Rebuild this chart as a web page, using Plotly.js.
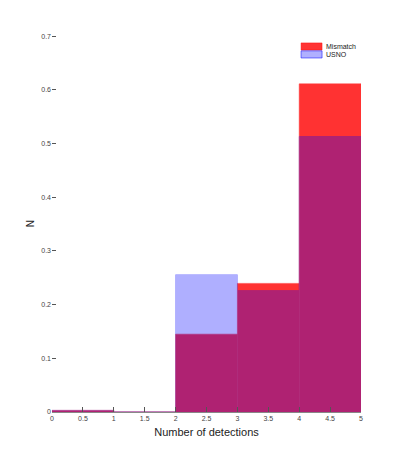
<!DOCTYPE html>
<html>
<head>
<meta charset="utf-8">
<script src="https://cdn.plot.ly/plotly-3.0.1.min.js"></script>
<style>html,body{margin:0;padding:0;background:#fff;}#chart{width:399px;height:464px;}</style>
</head>
<body>
<div id="chart"></div>
<script>
const binCenters = [0.5, 1.5, 2.5, 3.5, 4.5];
const mismatch = [0.003, 0, 0.145, 0.2395, 0.611];
const usno = [0.003, 0, 0.2556, 0.226, 0.513];
const xTicks = [0, 0.5, 1, 1.5, 2, 2.5, 3, 3.5, 4, 4.5, 5];
const yTicks = [0, 0.1, 0.2, 0.3, 0.4, 0.5, 0.6, 0.7];
const seriesNames = ['Mismatch', 'USNO'];

const traces = [
  {type: 'bar', name: seriesNames[0], x: binCenters, y: mismatch, width: 1,
   marker: {color: 'rgb(255,0,0)', line: {color: 'rgb(255,0,0)', width: 0.5}}, opacity: 0.8},
  {type: 'bar', name: seriesNames[1], x: binCenters, y: usno, width: 1,
   marker: {color: 'rgb(0,0,255)', line: {color: 'rgb(0,0,255)', width: 1}}, opacity: 0.31}
];

// custom compact legend (paper coordinates)
const legShapes = [
  {type: 'rect', xref: 'paper', yref: 'paper', x0: 0.806, x1: 0.874, y0: 0.960, y1: 0.979,
   fillcolor: 'rgba(255,0,0,0.8)', line: {color: 'rgba(255,0,0,0.8)', width: 0.5}},
  {type: 'rect', xref: 'paper', yref: 'paper', x0: 0.806, x1: 0.874, y0: 0.939, y1: 0.958,
   fillcolor: 'rgba(0,0,255,0.31)', line: {color: 'rgba(0,0,255,0.5)', width: 1}}
];
const legAnn = [
  {xref: 'paper', yref: 'paper', x: 0.880, y: 0.9695, xanchor: 'left', yanchor: 'middle',
   text: seriesNames[0], showarrow: false, font: {size: 7, color: '#222'}},
  {xref: 'paper', yref: 'paper', x: 0.880, y: 0.9485, xanchor: 'left', yanchor: 'middle',
   text: seriesNames[1], showarrow: false, font: {size: 7, color: '#222'}}
];

const layout = {
  width: 399, height: 464,
  margin: {l: 52, r: 38, t: 35, b: 52},
  paper_bgcolor: '#fff', plot_bgcolor: '#fff',
  barmode: 'overlay', bargap: 0,
  font: {family: 'Liberation Sans, Arial, sans-serif', size: 7, color: '#444'},
  showlegend: false,
  shapes: legShapes,
  annotations: legAnn,
  xaxis: {range: [0, 5], tickvals: xTicks, ticktext: xTicks.map(String),
          ticks: 'inside', ticklen: 5, tickcolor: '#555', showgrid: false, zeroline: false,
          showline: true, linecolor: '#888', linewidth: 1, tickfont: {size: 7, color: '#444'},
          title: {text: 'Number of detections', font: {size: 11, color: '#222'}, standoff: 6}},
  yaxis: {range: [0, 0.702], tickvals: yTicks, ticktext: yTicks.map(String),
          ticks: 'inside', ticklen: 4, tickcolor: '#555', showgrid: false, zeroline: false,
          showline: false, tickfont: {size: 7, color: '#444'},
          title: {text: 'N', font: {size: 10, color: '#222'}, standoff: 4}}
};

Plotly.newPlot('chart', traces, layout, {displayModeBar: false, staticPlot: true});
</script>
</body>
</html>
